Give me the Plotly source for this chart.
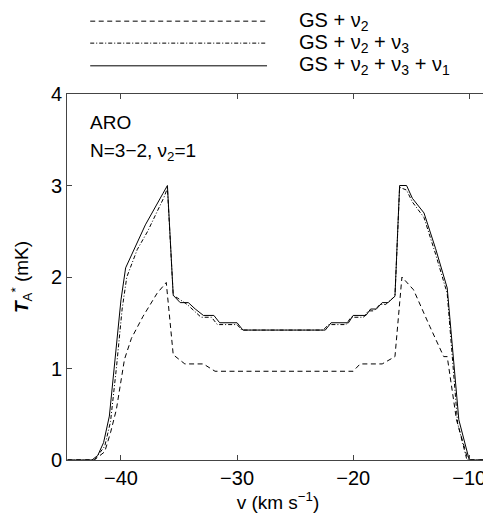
import plotly.graph_objects as go

# velocity (km/s) and antenna temperature (mK)
v_gs_v2 = [-44.6, -42.3, -41.4, -40.9, -40.4, -39.7, -39.1, -38.1, -36.9, -36.1, -35.5, -35.1, -34.5,
           -32.9, -31.9, -20.0, -19.4, -17.5, -16.4, -15.8, -14.8, -13.4, -12.2, -11.9, -11.1, -10.2,
           -9.9, -8.3]
t_gs_v2 = [0, 0, 0.09, 0.3, 0.55, 1.10, 1.33, 1.57, 1.82, 1.94, 1.15, 1.11, 1.05,
           1.05, 0.97, 0.97, 1.05, 1.05, 1.13, 2.0, 1.86, 1.46, 1.13, 1.13, 0.44, 0.04,
           0, 0]

v_gs_v2_v3 = [-44.6, -42.3, -41.4, -40.9, -40.4, -39.9, -39.5, -38.6, -37.7, -36.3, -36.0, -35.5, -35.0,
              -34.3, -33.7, -33.1, -32.2, -31.7, -30.0, -29.6, -22.6, -22.1, -20.6, -20.2, -19.1, -18.7,
              -18.2, -17.7, -17.2, -16.4, -16.0, -15.4, -14.9, -13.9, -12.9, -11.9, -11.0, -10.2, -8.3]
t_gs_v2_v3 = [0, 0, 0.15, 0.42, 1.0, 1.65, 2.0, 2.3, 2.5, 2.87, 2.97, 1.80, 1.76,
              1.70, 1.63, 1.56, 1.56, 1.48, 1.48, 1.42, 1.42, 1.48, 1.48, 1.56, 1.56, 1.63,
              1.63, 1.70, 1.70, 1.79, 2.98, 2.95, 2.82, 2.65, 2.25, 1.82, 0.4, 0.0, 0.0]

v_all = [-44.6, -42.5, -42.0, -41.5, -41.0, -40.5, -40.0, -39.6, -38.7, -37.9, -36.4, -36.0, -35.5,
         -34.9, -34.2, -33.6, -32.9, -32.0, -31.5, -30.0, -29.5, -22.4, -21.9, -20.4, -20.0, -18.9,
         -18.5, -18.0, -17.5, -17.0, -16.4, -16.0, -15.4, -14.9, -13.9, -12.9, -11.9, -10.9, -10.0, -8.3]
t_all = [0, 0, 0.05, 0.19, 0.48, 1.1, 1.75, 2.1, 2.35, 2.57, 2.91, 3.0, 1.80,
         1.72, 1.72, 1.65, 1.58, 1.58, 1.50, 1.50, 1.42, 1.42, 1.50, 1.50, 1.58, 1.58,
         1.65, 1.65, 1.72, 1.72, 1.79, 3.0, 3.0, 2.86, 2.70, 2.31, 1.88, 0.44, 0.0, 0.0]

x_ticks = [-40, -30, -20, -10]
y_ticks = [0, 1, 2, 3, 4]

series = [
    ('GS + ν<sub>2</sub>', v_gs_v2, t_gs_v2, '5px,3.5px'),
    ('GS + ν<sub>2</sub> + ν<sub>3</sub>', v_gs_v2_v3, t_gs_v2_v3, '4px,2px,1px,2px'),
    ('GS + ν<sub>2</sub> + ν<sub>3</sub> + ν<sub>1</sub>', v_all, t_all, 'solid'),
]

font = 'Liberation Sans, Arial, sans-serif'
fig = go.Figure()

for name, v, t, dash in series:
    fig.add_trace(go.Scatter(x=v, y=t, mode='lines', name=name, showlegend=False,
                             line=dict(color='black', width=1, dash=dash)))

# hand-made legend with long line samples above the plot
leg_y = [1.199, 1.139, 1.077]
for (name, v, t, dash), ly in zip(series, leg_y):
    fig.add_shape(type='line', xref='paper', yref='paper', x0=0.055, x1=0.474, y0=ly, y1=ly,
                  line=dict(color='black', width=1, dash=dash))
    fig.add_annotation(xref='paper', yref='paper', x=0.545, y=ly, text=name, showarrow=False,
                       xanchor='left', yanchor='middle', font=dict(size=20, color='black'))

fig.add_annotation(xref='paper', yref='paper', x=0.05, y=0.923, text='ARO', showarrow=False,
                   xanchor='left', yanchor='middle', font=dict(size=19, color='black'))
fig.add_annotation(xref='paper', yref='paper', x=0.05, y=0.842, text='N=3−2, ν<sub>2</sub>=1',
                   showarrow=False, xanchor='left', yanchor='middle', font=dict(size=19, color='black'))

axis_style = dict(showline=True, linecolor='#444', linewidth=1, mirror='ticks', ticks='inside',
                  ticklen=5, tickcolor='#444', showgrid=False, zeroline=False, automargin=False,
                  tickfont=dict(size=20, color='black'))

# the page body adds an 8px offset, so the figure is 8px smaller than the window
fig.update_layout(
    width=483, height=514,
    margin=dict(l=59, r=2, t=86, b=62),
    paper_bgcolor='white', plot_bgcolor='white',
    font=dict(family=font, color='black'),
    xaxis=dict(range=[-44.65, -8.3], tickvals=x_ticks, ticktext=['−40', '−30', '−20', '−10'],
               title=dict(text='v (km s<sup>−1</sup>)', font=dict(size=19), standoff=4), **axis_style),
    yaxis=dict(range=[0, 4], tickvals=y_ticks,
               title=dict(text='<b><i>T</i></b><sub>A</sub><sup>*</sup> (mK)', font=dict(size=19),
                          standoff=20), **axis_style),
)

fig.write_html('out.html')
